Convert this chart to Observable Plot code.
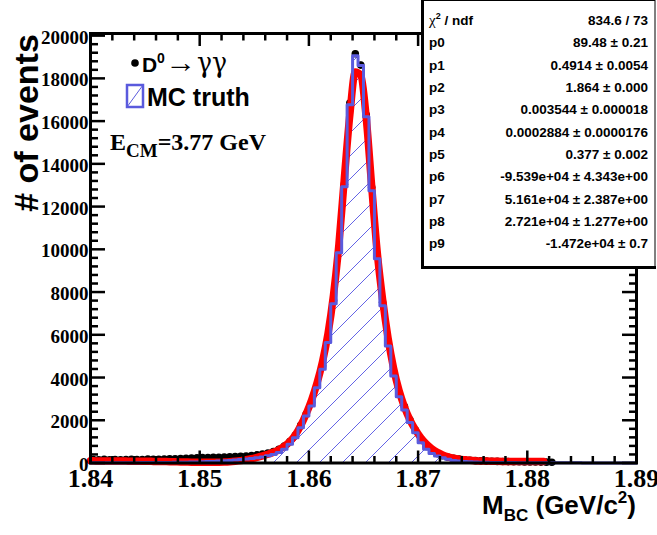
<!DOCTYPE html>
<html><head><meta charset="utf-8">
<script src="https://cdn.jsdelivr.net/npm/d3@7"></script>
<script src="https://cdn.jsdelivr.net/npm/@observablehq/plot@0.6"></script>
<style>
html,body{margin:0;padding:0;background:#fff;}
#wrap{position:relative;width:657px;height:535px;overflow:hidden;background:#fff;}
#overlay{position:absolute;left:0;top:0;}
</style></head><body>
<div id="wrap"><div id="chart"></div>
<svg id="overlay" width="657" height="535" xmlns="http://www.w3.org/2000/svg">
  <g id="legend" font-family="Liberation Sans, Arial, sans-serif" font-weight="bold" fill="black">
    <circle cx="135" cy="63" r="3.8" fill="black"/>
    <text x="142" y="72" font-size="21">D</text>
    <text x="157" y="63" font-size="14">0</text>
    <text x="165" y="72" font-size="28" font-weight="normal" font-family="Liberation Serif, DejaVu Serif, serif" textLength="31" lengthAdjust="spacingAndGlyphs">→</text>
    <text x="197" y="72" font-size="28" font-weight="normal" font-family="DejaVu Serif, Liberation Serif, serif" textLength="30" lengthAdjust="spacingAndGlyphs">γγ</text>
    <rect x="127" y="85" width="16" height="22" fill="white" stroke="#5a5add" stroke-width="2.5"/>
    <line x1="127" y1="107" x2="143" y2="85" stroke="#5a5add" stroke-width="1"/>
    <text x="147" y="106" font-size="25">MC truth</text>
    <text x="110" y="150" font-size="24" font-family="Liberation Serif, Times New Roman, serif">E<tspan font-size="19" dy="7">CM</tspan><tspan font-size="24" dy="-7">=3.77 GeV</tspan></text>
  </g>
  <text transform="translate(38,123) rotate(-90)" text-anchor="middle" font-family="Liberation Sans, Arial, sans-serif" font-weight="bold" font-size="34"># of events</text>
  <text x="636" y="514" text-anchor="end" font-family="Liberation Sans, Arial, sans-serif" font-weight="bold" font-size="26">M<tspan font-size="17" dy="7">BC</tspan><tspan font-size="26" dy="-7"> (GeV/c</tspan><tspan font-size="17" dy="-11">2</tspan><tspan font-size="26" dy="11">)</tspan></text>
  <g id="stats"></g>
</svg>
</div>
<script>
// ---- histogram binning (ROOT histogram: 100 bins from 1.84 to 1.89)
const binLow = 1.84;
const binWidth = 0.0005;

// MC truth histogram contents (100 bins)
const mcCounts = [
  10, 12, 10, 14, 12, 15, 13, 16, 15, 18,
  18, 20, 22, 24, 26, 30, 34, 38, 44, 50,
  58, 66, 76, 88, 100, 115, 135, 160, 190, 215,
  245, 285, 340, 400, 490, 640, 876, 1187, 1655, 2201,
  2670, 3527, 4389, 5635, 7447, 9836, 12927, 16768, 19060, 18600,
  16200, 12740, 9555, 7354, 5480, 4075, 3100, 2480, 1890, 1420,
  950, 640, 450, 330, 250, 170, 120, 90, 70, 55,
  45, 38, 32, 28, 25, 22, 20, 18, 16, 15,
  14, 12, 12, 10, 9, 8, 8, 7, 6, 6,
  5, 5, 4, 4, 3, 3, 3, 2, 2, 2
];

// data D0 -> gamma gamma (bins 0..84)
const dataCounts = [
  160, 150, 170, 155, 165, 150, 160, 175, 160, 165,
  180, 170, 175, 185, 195, 200, 210, 220, 230, 240,
  250, 255, 265, 270, 280, 290, 300, 315, 330, 350,
  380, 420, 470, 540, 640, 790, 1000, 1300, 1760, 2290,
  2830, 3650, 4550, 5800, 7600, 10000, 13050, 16850, 19150, 18620,
  16300, 12900, 9700, 7520, 5650, 4240, 3250, 2640, 2020, 1540,
  1080, 770, 570, 440, 340, 270, 220, 180, 150, 130,
  110, 100, 90, 80, 75, 70, 65, 60, 55, 50,
  48, 45, 42, 40, 38
];

// fit function read at bin centres (fit range 1.84 - 1.8815)
const fitStart = 1.84, fitStartValue = 101;
const fitEnd = 1.8815, fitEndValue = 76;
const fitValues = [
  100, 98, 96, 94, 92, 90, 88, 86, 84, 82,
  80, 76, 72, 67, 62, 56, 50, 45, 40, 36,
  34, 32, 32, 35, 43, 57, 80, 110, 150, 200,
  265, 335, 410, 500, 620, 780, 1000, 1310, 1750, 2300,
  2950, 3750, 4750, 6050, 7850, 10250, 13350, 16300, 18300, 18150,
  16150, 12950, 9900, 7650, 5850, 4450, 3400, 2620, 2020, 1560,
  1180, 890, 670, 500, 380, 290, 225, 180, 150, 125,
  108, 96, 88, 82, 78, 75, 73, 72, 71, 71,
  72, 73, 75
];

// axis ticks
const xMajor = [1.84, 1.85, 1.86, 1.87, 1.88, 1.89];
const xTickLabels = ["1.84", "1.85", "1.86", "1.87", "1.88", "1.89"];
const xMinor = [1.842,1.844,1.846,1.848,1.852,1.854,1.856,1.858,1.862,1.864,1.866,1.868,1.872,1.874,1.876,1.878,1.882,1.884,1.886,1.888];
const yMajor = [0, 2000, 4000, 6000, 8000, 10000, 12000, 14000, 16000, 18000, 20000];
const yTickLabels = ["0", "2000", "4000", "6000", "8000", "10000", "12000", "14000", "16000", "18000", "20000"];
const yMinor = d3.range(0, 20001, 400).filter(v => v % 2000 !== 0);

// stats box
const statNames = ["p0","p1","p2","p3","p4","p5","p6","p7","p8","p9"];
const statValues = ["89.48 \u00b1 0.21","0.4914 \u00b1 0.0054","1.864 \u00b1 0.000","0.003544 \u00b1 0.000018","0.0002884 \u00b1 0.0000176","0.377 \u00b1 0.002","-9.539e+04 \u00b1 4.343e+00","5.161e+04 \u00b1 2.387e+00","2.721e+04 \u00b1 1.277e+00","-1.472e+04 \u00b1 0.7"];
const chi2Text = "834.6 / 73";

// ---- build tables
const centers = mcCounts.map((_, k) => binLow + binWidth * (k + 0.5));
const mcStep = mcCounts.map((v, k) => ({x: binLow + binWidth * k, v}));
mcStep.push({x: binLow + binWidth * mcCounts.length, v: mcCounts[mcCounts.length - 1]});
const dataPts = dataCounts.map((v, k) => ({x: centers[k], v, e: Math.sqrt(v)}));
const fitPts = [{x: fitStart, v: fitStartValue}, ...fitValues.map((v, k) => ({x: centers[k], v})), {x: fitEnd, v: fitEndValue}];

const blue = "#5a5add";
const tickFont = {fontFamily: "Liberation Serif, Times New Roman, serif", fontWeight: "bold", fill: "black"};
const none = () => "";
// inward ticks: draw outward ticks of length L shifted back inside by L
const tickIn = (axis, ticks, anchor, L) => {
  const shift = anchor === "bottom" ? {dy: -L} : anchor === "top" ? {dy: L} : anchor === "left" ? {dx: L} : {dx: -L};
  return axis(ticks, {anchor, tickSize: L, strokeWidth: 2.5, tickFormat: none, ...shift});
};

const chart = Plot.plot({
  width: 657, height: 535,
  marginLeft: 90, marginRight: 21, marginTop: 33, marginBottom: 72.5,
  x: {domain: [1.84, 1.89], label: null},
  y: {domain: [0, 20100], label: null},
  style: {background: "white", overflow: "visible"},
  marks: [
    Plot.areaY(mcStep, {x: "x", y: "v", curve: "step-after", fill: "url(#hatch)"}),
    Plot.ruleX(dataPts, {x: "x", y1: d => d.v - d.e, y2: d => d.v + d.e, stroke: "black", strokeWidth: 2}),
    Plot.dot(dataPts, {x: "x", y: "v", r: 3.8, fill: "black", stroke: "none"}),
    Plot.line(fitPts, {x: "x", y: "v", stroke: "#ff0000", strokeWidth: 7.5, curve: "monotone-x", strokeLinejoin: "round"}),
    Plot.lineY(mcStep, {x: "x", y: "v", curve: "step-after", stroke: blue, strokeWidth: 3}),
    Plot.frame({stroke: "black", strokeWidth: 3}),
    tickIn(Plot.axisX, xMajor, "bottom", 12),
    tickIn(Plot.axisX, xMinor, "bottom", 6.5),
    tickIn(Plot.axisX, xMajor, "top", 12),
    tickIn(Plot.axisX, xMinor, "top", 6.5),
    tickIn(Plot.axisY, yMajor, "left", 15),
    tickIn(Plot.axisY, yMinor, "left", 8),
    tickIn(Plot.axisY, yMajor, "right", 15),
    tickIn(Plot.axisY, yMinor, "right", 8),
    Plot.axisX(xMajor, {anchor: "bottom", tickSize: 0, tickPadding: 6, fontSize: 26, ...tickFont,
      tickFormat: d => xTickLabels[xMajor.indexOf(d)]}),
    Plot.axisY(yMajor, {anchor: "left", tickSize: 0, tickPadding: 2, fontSize: 19, dy: 2, ...tickFont,
      tickFormat: d => yTickLabels[yMajor.indexOf(d)]})
  ]
});

// hatch pattern for the MC truth histogram
const NS = "http://www.w3.org/2000/svg";
const defs = document.createElementNS(NS, "defs");
defs.innerHTML = `<pattern id="hatch" patternUnits="userSpaceOnUse" width="23" height="23">
  <line x1="-2" y1="25" x2="25" y2="-2" stroke="#6464e6" stroke-width="1"/>
  <line x1="-25" y1="25" x2="2" y2="-2" stroke="#6464e6" stroke-width="1"/>
  <line x1="21" y1="25" x2="48" y2="-2" stroke="#6464e6" stroke-width="1"/>
</pattern>`;
chart.insertBefore(defs, chart.firstChild);
document.getElementById("chart").appendChild(chart);

// stats box
const g = document.getElementById("stats");
const font = 'font-family="Liberation Sans, Arial, sans-serif" font-weight="bold" font-size="13.5"';
let html = `<rect x="422" y="0.5" width="233" height="267" fill="white" stroke="black" stroke-width="1"/>
<line x1="422.5" y1="0" x2="422.5" y2="269" stroke="black" stroke-width="3"/>
<line x1="421" y1="267.5" x2="656" y2="267.5" stroke="black" stroke-width="3"/>`;
const rowY = k => 25 + 22.33 * k;
html += `<text x="429" y="${rowY(0)}" ${font}><tspan font-family="Liberation Serif, serif" font-weight="normal" font-size="15">\u03c7</tspan><tspan font-size="9" dy="-6">2</tspan><tspan dy="6"> / ndf</tspan></text>`;
html += `<text x="648" y="${rowY(0)}" text-anchor="end" ${font}>${chi2Text}</text>`;
statNames.forEach((n, i) => {
  html += `<text x="429" y="${rowY(i + 1)}" ${font}>${n}</text>`;
  html += `<text x="648" y="${rowY(i + 1)}" text-anchor="end" ${font}>${statValues[i]}</text>`;
});
g.innerHTML = html;
</script>
</body></html>
